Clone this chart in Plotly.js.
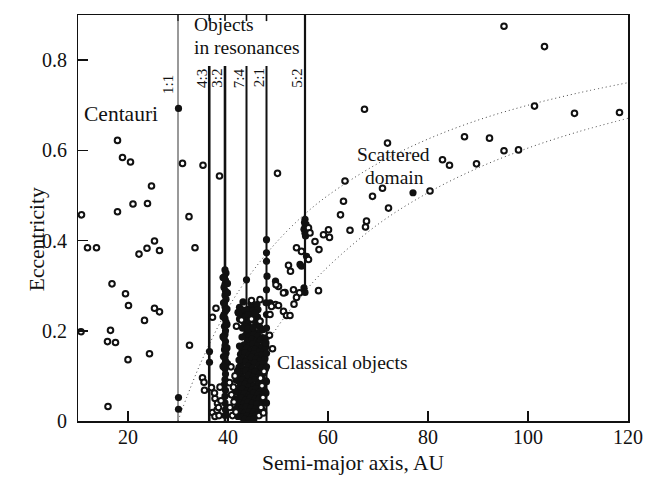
<!DOCTYPE html>
<html>
<head>
<meta charset="utf-8">
<script src="https://cdn.plot.ly/plotly-3.0.1.min.js"></script>
<style>
  html, body { margin: 0; padding: 0; background: #fff; }
  #chart { width: 645px; height: 480px; }
</style>
</head>
<body>
<div id="chart"></div>
<script>
// Centaurs (open circles inside Neptune's orbit)
const centaurA = [10.7, 17.9, 18.9, 20.5, 24.7, 17.9, 21.0, 23.9, 11.9, 13.7, 22.2, 23.8, 25.3, 26.3,
  16.8, 19.5, 20.1, 25.3, 26.3, 23.3, 10.6, 16.5, 15.9, 17.5, 20.0, 24.3, 16.0];
const centaurE = [0.457, 0.622, 0.584, 0.574, 0.521, 0.464, 0.481, 0.482, 0.384, 0.384, 0.370, 0.383, 0.399, 0.378,
  0.304, 0.282, 0.256, 0.250, 0.242, 0.223, 0.198, 0.201, 0.176, 0.174, 0.136, 0.149, 0.032];

// Scattered-disk and other high-eccentricity objects (open circles)
const scatteredA = [30.9, 35.0, 32.2, 38.3, 33.4, 32.3, 49.9,
  95.2, 103.3, 67.3, 101.3, 109.3, 118.3, 71.9, 87.3, 92.3, 95.2, 98.1, 82.9, 84.3, 89.7,
  63.4, 70.9, 68.9, 80.4, 63.1, 72.1, 62.5, 67.7, 67.5, 64.4,
  56.1, 56.4, 57.4, 59.1, 60.1, 60.3, 58.2, 53.7, 54.7, 56.1, 52.1, 52.5, 58.1, 54.3, 53.7,
  53.1, 51.4, 53.2, 50.1, 49.5, 50.1, 51.1, 51.7, 52.4, 48.4, 51.1, 49.6, 48.7, 46.4, 44.7,
  46.4, 44.7, 42.7, 41.7, 48.9];
const scatteredE = [0.571, 0.567, 0.453, 0.543, 0.384, 0.168, 0.549,
  0.875, 0.830, 0.691, 0.698, 0.682, 0.684, 0.616, 0.630, 0.627, 0.599, 0.601, 0.579, 0.567, 0.570,
  0.532, 0.516, 0.498, 0.510, 0.487, 0.472, 0.457, 0.443, 0.430, 0.423,
  0.428, 0.417, 0.398, 0.413, 0.424, 0.407, 0.380, 0.384, 0.376, 0.358, 0.345, 0.332, 0.289, 0.284, 0.274,
  0.291, 0.285, 0.259, 0.298, 0.258, 0.256, 0.243, 0.234, 0.234, 0.236, 0.284, 0.302, 0.254, 0.269, 0.267,
  0.221, 0.226, 0.224, 0.210, 0.160];

// Low-eccentricity open circles around 35-48 AU
const lowA = [34.9, 35.2, 35.3, 36.7, 36.9, 37.6, 36.9, 37.4, 37.9, 37.8, 37.3, 38.1, 37.4, 38.4, 38.6, 38.2,
  40.4, 40.9, 40.7, 41.2, 40.3, 41.4, 40.6, 41.1, 41.6, 46.6, 47.0, 46.8, 46.2, 47.1, 46.5, 47.2, 48.3];
const lowE = [0.096, 0.086, 0.068, 0.074, 0.019, 0.250, 0.230, 0.050, 0.039, 0.024, 0.062, 0.030, 0.010, 0.075, 0.045, 0.012,
  0.030, 0.012, 0.058, 0.042, 0.085, 0.100, 0.120, 0.075, 0.020, 0.030, 0.052, 0.078, 0.012, 0.018, 0.095, 0.110, 0.190];

// Objects in mean-motion resonances with Neptune (filled dots)
const resonantA = [30.1, 30.1, 30.1, 36.3, 36.3,
  39.4, 39.6, 39.3, 39.5, 39.4, 39.2, 39.5, 39.4, 39.6, 39.3, 39.4, 39.5, 39.2, 39.4, 39.6, 39.3, 39.5, 39.4,
  39.2, 39.5, 39.4, 39.3, 39.6, 39.4, 39.5, 39.3, 39.4, 39.5, 39.4, 39.3, 39.5, 39.4, 39.4, 39.5, 39.4,
  39.0, 39.9, 39.1, 39.8, 39.0, 39.8, 39.9, 39.0, 39.8, 39.1, 39.9, 39.0,
  43.7,
  47.7, 47.7, 47.7, 47.8, 47.7, 47.6, 47.7, 47.7, 47.6, 47.7, 47.7, 47.7, 47.6, 47.7,
  55.4, 55.3, 55.6, 55.4, 55.2, 55.7, 55.4, 55.5, 55.7, 54.4, 54.7, 55.2, 55.4,
  77.0, 49.5, 48.4, 42.7, 42.1, 44.1, 45.4];
const resonantE = [0.693, 0.052, 0.026, 0.154, 0.130,
  0.335, 0.328, 0.320, 0.312, 0.303, 0.296, 0.288, 0.279, 0.270, 0.262, 0.253, 0.244, 0.236, 0.227, 0.219, 0.210, 0.200, 0.192,
  0.184, 0.176, 0.167, 0.158, 0.150, 0.142, 0.133, 0.125, 0.116, 0.104, 0.092, 0.081, 0.068, 0.055, 0.040, 0.025, 0.012,
  0.318, 0.305, 0.262, 0.248, 0.187, 0.162, 0.284, 0.231, 0.214, 0.143, 0.127, 0.121,
  0.313,
  0.402, 0.373, 0.354, 0.321, 0.291, 0.262, 0.236, 0.206, 0.173, 0.150, 0.120, 0.087, 0.062, 0.040,
  0.447, 0.440, 0.436, 0.430, 0.425, 0.422, 0.416, 0.410, 0.365, 0.347, 0.343, 0.295, 0.285,
  0.506, 0.310, 0.262, 0.247, 0.239, 0.236, 0.239];

// Dense core of classical Kuiper-belt objects (filled dots)
const classicalA = [42.3, 44.2, 45.0, 42.0, 42.9, 44.4, 45.5, 42.6, 43.5, 44.9, 45.9, 43.1, 44.0, 45.2,
  43.4, 44.5, 45.6, 46.3, 43.8, 44.7, 45.5, 46.6, 43.5, 44.3, 45.1, 46.0, 46.9,
  43.9, 44.8, 45.7, 46.5, 47.2, 43.2, 44.1, 45.0, 45.9, 46.8,
  42.8, 43.7, 44.6, 45.4, 46.3, 47.3, 42.5, 43.4, 44.2, 45.1, 46.0, 46.9,
  42.9, 43.8, 44.7, 45.6, 46.5, 47.4, 42.6, 43.5, 44.4, 45.3, 46.2, 47.1,
  42.2, 43.1, 44.0, 44.9, 45.8, 46.7, 47.5, 42.7, 43.6, 44.5, 45.4, 46.3, 47.2,
  42.3, 43.2, 44.1, 45.0, 45.9, 46.8, 42.0, 42.8, 43.7, 44.6, 45.5, 46.4, 47.3,
  42.5, 43.4, 44.3, 45.2, 46.1, 47.0, 41.8, 42.9, 43.8, 44.7, 45.6, 46.5,
  42.4, 43.3, 44.2, 45.1, 46.0, 47.1, 41.6, 42.7, 43.6, 44.5, 45.4, 46.3,
  42.2, 43.1, 44.0, 44.9, 45.8, 41.9, 42.8, 43.7, 44.6, 45.5, 46.6,
  42.4, 43.3, 44.2, 45.1, 46.0, 42.0, 42.9, 43.8, 44.7, 45.6, 43.4, 44.3, 45.2,
  43.0, 44.6, 45.8, 43.6, 45.0, 46.0, 42.3, 43.9, 45.6, 46.4, 42.9, 44.0, 45.0, 47.0,
  42.8, 47.5, 42.3, 47.6, 42.2, 41.9, 41.6, 47.6, 41.4, 47.4, 41.3, 47.0, 41.5, 46.9];
const classicalE = [0.252, 0.248, 0.255, 0.241, 0.238, 0.243, 0.236, 0.229, 0.232, 0.226, 0.231, 0.221, 0.218, 0.223,
  0.211, 0.207, 0.213, 0.209, 0.199, 0.202, 0.196, 0.201, 0.190, 0.187, 0.192, 0.188, 0.185,
  0.178, 0.181, 0.176, 0.179, 0.174, 0.169, 0.166, 0.171, 0.167, 0.163,
  0.158, 0.161, 0.156, 0.159, 0.154, 0.157, 0.148, 0.151, 0.146, 0.149, 0.144, 0.147,
  0.139, 0.136, 0.141, 0.137, 0.134, 0.138, 0.128, 0.131, 0.126, 0.129, 0.124, 0.127,
  0.119, 0.116, 0.121, 0.117, 0.114, 0.118, 0.115, 0.108, 0.111, 0.106, 0.109, 0.104, 0.107,
  0.099, 0.096, 0.101, 0.097, 0.094, 0.098, 0.089, 0.091, 0.086, 0.088, 0.092, 0.085, 0.087,
  0.079, 0.081, 0.076, 0.078, 0.082, 0.077, 0.069, 0.071, 0.066, 0.068, 0.072, 0.067,
  0.059, 0.061, 0.057, 0.062, 0.058, 0.060, 0.049, 0.051, 0.047, 0.052, 0.048, 0.050,
  0.041, 0.038, 0.042, 0.039, 0.037, 0.030, 0.028, 0.032, 0.029, 0.027, 0.031,
  0.020, 0.018, 0.021, 0.019, 0.017, 0.010, 0.008, 0.011, 0.009, 0.012, 0.004, 0.003, 0.005,
  0.264, 0.261, 0.258, 0.246, 0.244, 0.247, 0.226, 0.224, 0.227, 0.222, 0.206, 0.204, 0.207, 0.203,
  0.186, 0.184, 0.166, 0.164, 0.135, 0.111, 0.091, 0.089, 0.064, 0.066, 0.045, 0.044, 0.026, 0.024];

// Perihelion-distance boundaries of the scattered domain (dotted curves)
const upperCurveA = [30, 32, 35, 40, 45, 50, 55, 60, 70, 80, 90, 100, 110, 120];
const upperCurveE = [0.0, 0.06, 0.14, 0.25, 0.333, 0.4, 0.455, 0.5, 0.571, 0.625, 0.667, 0.70, 0.727, 0.75];
const lowerCurveA = [39.5, 42, 45, 50, 55, 60, 70, 80, 90, 100, 110, 120];
const lowerCurveE = [0.0, 0.06, 0.122, 0.21, 0.282, 0.342, 0.436, 0.506, 0.561, 0.605, 0.641, 0.671];

// Resonance lines: label, semi-major axis, extent in eccentricity, stroke
const resLabels = ['1:1', '4:3', '3:2', '7:4', '2:1', '5:2'];
const resA = [30.0, 36.25, 39.4, 43.7, 47.7, 55.4];
const resTop = [0.9, 0.787, 0.787, 0.787, 0.787, 0.9];
const resBottom = [0, 0, 0, 0, 0, 0.285];
const resWidth = [1.2, 2.6, 2.6, 2, 2, 2.2];
const resColor = ['#555', '#111', '#111', '#111', '#111', '#111'];

const xTicks = [20, 40, 60, 80, 100, 120];
const yTicks = [0, 0.2, 0.4, 0.6, 0.8];
const yTickText = ['0', '0.2', '0.4', '0.6', '0.8'];

const serif = 'Liberation Serif, Times New Roman, serif';
const ink = '#111';

const traces = [];

traces.push({
  x: upperCurveA, y: upperCurveE, mode: 'lines', hoverinfo: 'skip',
  line: { color: '#444', width: 1, dash: '1px,3px', shape: 'spline' }
});
traces.push({
  x: lowerCurveA, y: lowerCurveE, mode: 'lines', hoverinfo: 'skip',
  line: { color: '#444', width: 1, dash: '1px,3px', shape: 'spline' }
});

resA.forEach((a, i) => {
  traces.push({
    x: [a, a], y: [resBottom[i], resTop[i]], mode: 'lines', hoverinfo: 'skip',
    line: { color: resColor[i], width: resWidth[i] }
  });
});

const filledMarker = { symbol: 'circle', size: 7.2, color: ink, line: { width: 0 } };
const openMarker = { symbol: 'circle', size: 5.6, color: '#fff', line: { color: ink, width: 2 } };

traces.push({ x: classicalA, y: classicalE, mode: 'markers', marker: filledMarker });
traces.push({ x: resonantA, y: resonantE, mode: 'markers', marker: filledMarker });
traces.push({ x: lowA, y: lowE, mode: 'markers', marker: openMarker });
traces.push({ x: scatteredA, y: scatteredE, mode: 'markers', marker: openMarker });
traces.push({ x: centaurA, y: centaurE, mode: 'markers', marker: openMarker });

const annotations = [];
resLabels.forEach((lab, i) => {
  annotations.push({
    x: resA[i], y: i === 0 ? 0.745 : 0.76, xref: 'x', yref: 'y', text: lab, showarrow: false,
    textangle: -90, xshift: i === 0 ? -10 : -7.5,
    font: { family: serif, size: 15, color: ink }
  });
});

// Eccentricity tick labels, set just left of the inside ticks
yTicks.forEach((v, i) => {
  annotations.push({
    xref: 'paper', x: 0, xanchor: 'right', xshift: -9, yref: 'y', y: v,
    text: yTickText[i], showarrow: false, font: { family: serif, size: 20, color: ink }
  });
});

const textFont = { family: serif, size: 19.5, color: ink };
annotations.push(
  { x: 32.8, y: 0.879, text: 'Objects', xanchor: 'left', showarrow: false, font: textFont },
  { x: 32.8, y: 0.829, text: 'in resonances', xanchor: 'left', showarrow: false, font: textFont },
  { x: 18.6, y: 0.68, text: 'Centauri', showarrow: false, font: { family: serif, size: 21.5, color: ink } },
  { x: 73.1, y: 0.590, text: 'Scattered', showarrow: false, font: textFont },
  { x: 73.2, y: 0.540, text: 'domain', showarrow: false, font: textFont },
  { x: 49.4, y: 0.129, text: 'Classical objects', xanchor: 'left', showarrow: false, font: textFont },
  {
    xref: 'paper', x: 0, xshift: -55.5, yref: 'y', y: 0.402, text: 'Eccentricity', textangle: -90,
    showarrow: false, font: { family: serif, size: 21.5, color: ink }
  }
);

// Short marks along the top frame at each resonance position
const shapes = resA.map((a, i) => ({
  type: 'line', xref: 'x', yref: 'paper', x0: a, x1: a, y0: 1, y1: 0.985,
  line: { color: ink, width: Math.min(resWidth[i], 1.6) }
}));

const layout = {
  width: 645, height: 480,
  margin: { l: 78, r: 17, t: 15, b: 59 },
  paper_bgcolor: '#fff', plot_bgcolor: '#fff',
  showlegend: false,
  font: { family: serif, color: ink },
  xaxis: {
    range: [10, 120], tickvals: xTicks, ticks: 'inside', ticklen: 10, tickwidth: 1.5, tickcolor: ink,
    showline: true, linecolor: ink, linewidth: 1.5, mirror: true, showgrid: false, zeroline: false,
    ticklabelstandoff: -3,
    tickfont: { family: serif, size: 20, color: ink },
    title: { text: 'Semi-major axis, AU', font: { family: serif, size: 21.5, color: ink }, standoff: 8 }
  },
  yaxis: {
    range: [0, 0.9], tickvals: yTicks, ticks: 'inside', ticklen: 10, tickwidth: 1.5, tickcolor: ink,
    showline: true, linecolor: ink, linewidth: 1.5, mirror: true, showgrid: false, zeroline: false,
    showticklabels: false
  },
  annotations: annotations,
  shapes: shapes
};

Plotly.newPlot('chart', traces, layout, { staticPlot: true, displayModeBar: false });
</script>
</body>
</html>
